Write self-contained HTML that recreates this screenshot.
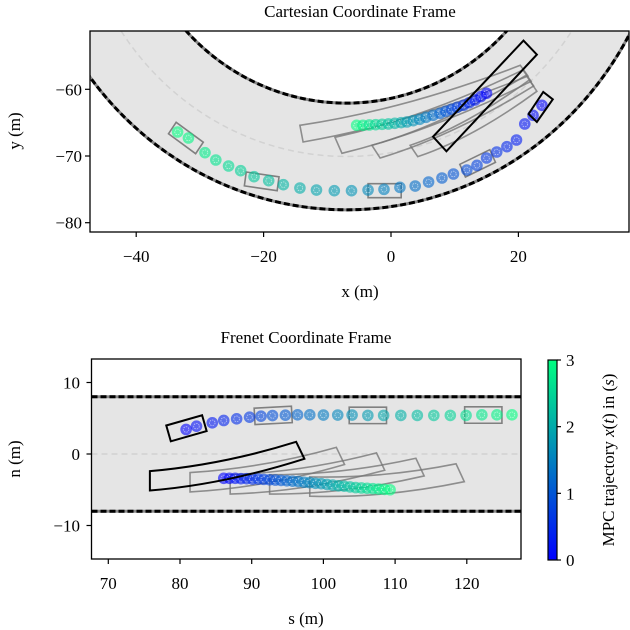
<!DOCTYPE html>
<html><head><meta charset="utf-8">
<style>
html,body{margin:0;padding:0;background:#fff;}
svg{display:block;font-family:"Liberation Serif","DejaVu Serif",serif;}
</style></head>
<body>
<svg id="fig" width="630" height="630" viewBox="0 0 630 630" xmlns="http://www.w3.org/2000/svg">
<defs>
<clipPath id="clipTop"><rect x="90" y="31" width="539" height="201"/></clipPath>
<clipPath id="clipBot"><rect x="91.5" y="359" width="429.5" height="200"/></clipPath>
<linearGradient id="cbgrad" x1="0" y1="1" x2="0" y2="0">
<stop offset="0" stop-color="rgb(0,0,255)"/><stop offset="1" stop-color="rgb(0,255,128)"/>
</linearGradient>
</defs>
<text x="360" y="17" font-size="17" text-anchor="middle">Cartesian Coordinate Frame</text>
<g id="topPlot"></g>
<text x="360" y="297" font-size="17" text-anchor="middle">x (m)</text>
<text transform="translate(20,131) rotate(-90)" font-size="17" text-anchor="middle">y (m)</text>

<text x="306" y="343" font-size="17" text-anchor="middle">Frenet Coordinate Frame</text>
<g id="botPlot"></g>
<text x="306" y="624" font-size="17" text-anchor="middle">s (m)</text>
<text transform="translate(20,459) rotate(-90)" font-size="17" text-anchor="middle">n (m)</text>

<g>
<rect x="548" y="360" width="9" height="200" fill="url(#cbgrad)" stroke="#000" stroke-width="1.2"/>
<text transform="translate(614,460) rotate(-90)" font-size="17" text-anchor="middle">MPC trajectory <tspan font-style="italic">x</tspan>(<tspan font-style="italic">t</tspan>) in (<tspan font-style="italic">s</tspan>)</text>
<g id="cbticks"></g>
</g>
</svg>
<script>
// ---------- DATA ----------
const topXTicks = [-40, -20, 0, 20];
const topYTicks = [-60, -70, -80];
const botSTicks = [70, 80, 90, 100, 110, 120];
const botNTicks = [10, 0, -10];
const cbTicks = [0, 1, 2, 3];
const roadCenter = [-7, -27.4];
const roadRadii = [34.67, 50.67];
const roadCenterRadius = 42.67;
const frenetBounds = [8, -8];
const obsTopX = [-33.5,-31.8,-29.2,-27.5,-25.5,-23.6,-21.5,-19.2,-16.9,-14.3,-11.7,-8.9,-6.2,-3.6,-1.1,1.4,3.8,5.9,8.0,9.8,11.9,13.5,15.0,16.6,18.2,19.7,21.0,22.3,23.7];
const obsTopY = [-66.4,-67.3,-69.5,-70.6,-71.5,-72.2,-73.1,-73.7,-74.3,-74.8,-75.1,-75.2,-75.2,-75.1,-75.0,-74.7,-74.5,-73.9,-73.3,-72.7,-72.1,-71.4,-70.3,-69.4,-68.6,-67.6,-65.2,-63.9,-62.4];
const egoTopX = [-5.4,-4.4,-3.4,-2.4,-1.4,-0.4,0.6,1.6,2.5,3.5,4.5,5.5,6.6,7.7,8.6,9.5,10.4,11.4,12.3,13.2,14.1,15.0];
const egoTopY = [-65.4,-65.4,-65.35,-65.3,-65.25,-65.2,-65.1,-65.0,-64.9,-64.7,-64.5,-64.2,-63.9,-63.6,-63.3,-63.0,-62.7,-62.4,-62.0,-61.6,-61.1,-60.6];
const egoBoxTop = [[6.6,-67.1],[8.7,-69.3],[22.9,-54.8],[20.8,-52.7]];
const obsBoxTop = [[21.6,-63.7],[22.9,-64.9],[25.4,-61.5],[23.9,-60.4]];
const ghostEgoTop = [
  [[-14.3,-65.4],[-13.8,-67.9],[21.5,-58.0],[20.3,-56.4]],
  [[-8.8,-67.2],[-7.7,-69.6],[22.0,-58.8],[20.7,-57.1]],
  [[-3.0,-68.4],[-1.7,-70.3],[22.4,-59.5],[21.2,-57.9]],
  [[3.0,-68.4],[4.2,-70.1],[22.9,-60.3],[21.7,-58.6]]
];
const ghostObsX = [-32.2,-20.3,-1.0,13.6];
const ghostObsY = [-67.3,-73.8,-75.2,-71.1];
const ghostObsH = [-35,-8,0,25];
const obsBotS = [80.85,82.3,84.5,86.1,87.9,89.7,91.3,92.9,94.7,96.4,98.1,100.0,102.0,104.0,106.2,108.4,110.8,113.1,115.4,117.7,119.9,122.1,124.2,126.3];
const obsBotN = [3.43,3.89,4.36,4.69,4.92,5.15,5.29,5.38,5.43,5.48,5.48,5.45,5.45,5.45,5.4,5.4,5.4,5.4,5.4,5.4,5.4,5.48,5.48,5.48];
const egoBotS = [86.1,86.9,87.7,88.5,89.3,90.1,90.9,91.7,92.5,93.3,94.1,94.9,95.7,96.5,97.3,98.1,98.9,99.7,100.5,101.3,102.1,102.9,103.7,104.5,105.3,106.1,106.9,107.7,108.5,109.3];
const egoBotN = [-3.4,-3.4,-3.4,-3.45,-3.45,-3.5,-3.5,-3.55,-3.6,-3.65,-3.7,-3.75,-3.8,-3.85,-3.95,-4.0,-4.1,-4.15,-4.25,-4.35,-4.45,-4.5,-4.6,-4.7,-4.75,-4.8,-4.85,-4.9,-4.95,-5.0];
const egoBoxBot = [[75.8,-2.4],[75.8,-5.1],[97.35,-0.67],[96.2,1.7]];
const egoBoxBotMid = [[86,-4.3],[86,-1.5]];
const ghostBotDS = [5.6,11.2,16.7,22.3];
const ghostBotDNL = [-0.2,-0.5,-0.5,-0.8];
const ghostBotDNR = [-0.8,-1.6,-2.4,-3.2];
const obsBoxBotS = [80.9,93.0,106.2,122.3];
const obsBoxBotN = [3.6,5.4,5.4,5.45];
const obsBoxBotH = [16,3,0,0];

// ---------- HELPERS ----------
const NS = 'http://www.w3.org/2000/svg';
function mk(tag, attrs, parent){const e=document.createElementNS(NS,tag);for(const k in attrs)e.setAttribute(k,attrs[k]);parent.appendChild(e);return e;}
function cmap(t){const f=Math.max(0,Math.min(1,t/3));return `rgb(0,${Math.round(255*f)},${Math.round(255*(1-f/2))})`;}
const tX = x => 391 + x*6.37;
const tY = y => 89.3 - (y+60)*6.67;
const bX = s => 108.3 + (s-70)*7.17;
const bY = n => 454 - n*7.15;

function marker(g, px, py, t, name){
  const c = mk('circle',{cx:px,cy:py,r:5.8,fill:cmap(t),'fill-opacity':0.6},g);
  
  
  mk('circle',{cx:px,cy:py,r:2.8,fill:'none',stroke:'#fff','stroke-opacity':0.6,'stroke-width':0.8,'stroke-dasharray':'1.5,1'},g);
}
function rectPoly(cx,cy,hdeg,L,W,alignRear){
  const h=hdeg*Math.PI/180, c=Math.cos(h), s=Math.sin(h);
  const x0 = alignRear?0:-L/2, x1 = alignRear?L:L/2;
  return [[x0,-W/2],[x1,-W/2],[x1,W/2],[x0,W/2]].map(p=>[cx+p[0]*c-p[1]*s, cy+p[0]*s+p[1]*c]);
}

// ---------- TOP PLOT ----------
const topG = document.getElementById('topPlot');
const tc = mk('g',{'clip-path':'url(#clipTop)'},topG);
function arcPts(r){const pts=[];for(let i=0;i<=180;i++){const a=Math.PI*i/180;pts.push([tX(roadCenter[0]+r*Math.cos(a)),tY(roadCenter[1]-r*Math.sin(a))]);}return pts;}
const innerPts = arcPts(roadRadii[0]), outerPts = arcPts(roadRadii[1]);
const road = mk('path',{d:'M'+outerPts.map(p=>p.join(',')).join('L')+'L'+innerPts.reverse().map(p=>p.join(',')).join('L')+'Z',fill:'#e5e5e5'},tc);


const cl = mk('polyline',{points:arcPts(roadCenterRadius).map(p=>p.join(',')).join(' '),fill:'none',stroke:'#d2d2d2','stroke-width':1.5,'stroke-dasharray':'6,4'},tc);


roadRadii.forEach(r=>{
  const pts=arcPts(r).map(p=>p.join(',')).join(' ');
  mk('polyline',{points:pts,fill:'none',stroke:'#888','stroke-width':3},tc);
  const b=mk('polyline',{points:pts,fill:'none',stroke:'#000','stroke-width':3,'stroke-dasharray':'6,3'},tc);
  
  
});
ghostEgoTop.forEach(box=>{
  const [lt,lb,rb,rt]=box.map(q=>[tX(q[0]),tY(q[1])]);
  const ct=[(lt[0]+rt[0])/2-4,(lt[1]+rt[1])/2+14];
  const cb=[(lb[0]+rb[0])/2-4,(lb[1]+rb[1])/2+14];
  const e=mk('path',{d:`M${lt}L${lb}Q${cb} ${rb}L${rt}Q${ct} ${lt}Z`,fill:'none',stroke:'#777','stroke-opacity':0.8,'stroke-width':1.6},tc);
  
  
});
ghostObsX.forEach((x,i)=>{
  const p = rectPoly(x,ghostObsY[i],ghostObsH[i],5.2,2.1,false);
  const e=mk('polygon',{points:p.map(q=>tX(q[0])+','+tY(q[1])).join(' '),fill:'none',stroke:'#666','stroke-opacity':0.8,'stroke-width':1.6},tc);
  
  
});
obsTopX.forEach((x,i)=>marker(tc,tX(x),tY(obsTopY[i]),3-3*i/(obsTopX.length-1),'obstacle-trajectory-point'));
egoTopX.forEach((x,i)=>marker(tc,tX(x),tY(egoTopY[i]),3-3*i/(egoTopX.length-1),'ego-trajectory-point'));
[egoBoxTop,obsBoxTop].forEach((b,k)=>{
  const e=mk('polygon',{points:b.map(q=>tX(q[0])+','+tY(q[1])).join(' '),fill:'none',stroke:'#000','stroke-width':2},tc);
  
  
});
mk('rect',{x:90,y:31,width:539,height:201,fill:'none',stroke:'#000','stroke-width':1.3},topG);
topXTicks.forEach(v=>{
  mk('line',{x1:tX(v),x2:tX(v),y1:232,y2:237,stroke:'#000','stroke-width':1.2},topG);
  const t=mk('text',{x:tX(v),y:262,'font-size':17,'text-anchor':'middle'},topG);
  t.textContent = v<0?'\u2212'+(-v):String(v);
  
  
});
topYTicks.forEach(v=>{
  mk('line',{x1:85,x2:90,y1:tY(v),y2:tY(v),stroke:'#000','stroke-width':1.2},topG);
  const t=mk('text',{x:82,y:tY(v)+6,'font-size':17,'text-anchor':'end'},topG);
  t.textContent = '\u2212'+(-v);
  
  
});

// ---------- BOTTOM PLOT ----------
const botG = document.getElementById('botPlot');
const bc = mk('g',{'clip-path':'url(#clipBot)'},botG);
const br = mk('rect',{x:91.5,y:bY(frenetBounds[0]),width:430,height:bY(frenetBounds[1])-bY(frenetBounds[0]),fill:'#e5e5e5'},bc);


const bcl = mk('line',{x1:91.5,x2:521,y1:bY(0),y2:bY(0),stroke:'#d2d2d2','stroke-width':1.5,'stroke-dasharray':'6,4'},bc);


frenetBounds.forEach(n=>{
  mk('line',{x1:91.5,x2:521,y1:bY(n),y2:bY(n),stroke:'#888','stroke-width':3},bc);
  const b=mk('line',{x1:91.5,x2:521,y1:bY(n),y2:bY(n),stroke:'#000','stroke-width':3,'stroke-dasharray':'6,3'},bc);
  
  
});
function curvedBox(ds,dnL,dnR){
  const s0=egoBoxBot[0][0], s1=egoBoxBot[2][0];
  const f=(p)=>{const w=(p[0]-s0)/(s1-s0);return [bX(p[0]+ds),bY(p[1]+dnL+w*(dnR-dnL))];};
  const [a,b,c,d]=egoBoxBot.map(f); const [m1,m2]=egoBoxBotMid.map(f);
  return `M${a}L${b}Q${m1} ${c}L${d}Q${m2} ${a}Z`;
}
ghostBotDS.forEach((ds,i)=>{
  const e=mk('path',{d:curvedBox(ds,ghostBotDNL[i],ghostBotDNR[i]),fill:'none',stroke:'#777','stroke-opacity':0.8,'stroke-width':1.6},bc);
  
  
});
obsBoxBotS.forEach((s,i)=>{
  if(i===0) return;
  const p=rectPoly(s,obsBoxBotN[i],obsBoxBotH[i],5.2,2.3,false);
  const e=mk('polygon',{points:p.map(q=>bX(q[0])+','+bY(q[1])).join(' '),fill:'none',stroke:'#666','stroke-opacity':0.8,'stroke-width':1.6},bc);
  
  
});
obsBotS.forEach((s,i)=>marker(bc,bX(s),bY(obsBotN[i]),3*i/(obsBotS.length-1),'obstacle-trajectory-point'));
egoBotS.forEach((s,i)=>marker(bc,bX(s),bY(egoBotN[i]),3*i/(egoBotS.length-1),'ego-trajectory-point'));
{
  const e=mk('path',{d:curvedBox(0,0,0),fill:'none',stroke:'#000','stroke-width':2},bc);
  
  
  const p=rectPoly(obsBoxBotS[0],obsBoxBotN[0],obsBoxBotH[0],5.2,2.3,false);
  const o=mk('polygon',{points:p.map(q=>bX(q[0])+','+bY(q[1])).join(' '),fill:'none',stroke:'#000','stroke-width':2},bc);
  
  
}
mk('rect',{x:91.5,y:359,width:429.5,height:200,fill:'none',stroke:'#000','stroke-width':1.3},botG);
botSTicks.forEach(v=>{
  mk('line',{x1:bX(v),x2:bX(v),y1:559,y2:564,stroke:'#000','stroke-width':1.2},botG);
  const t=mk('text',{x:bX(v),y:589,'font-size':17,'text-anchor':'middle'},botG);
  t.textContent=String(v);
  
  
});
botNTicks.forEach(v=>{
  mk('line',{x1:86.5,x2:91.5,y1:bY(v),y2:bY(v),stroke:'#000','stroke-width':1.2},botG);
  const t=mk('text',{x:80,y:bY(v)+6,'font-size':17,'text-anchor':'end'},botG);
  t.textContent = v<0?'\u2212'+(-v):String(v);
  
  
});
const cbg=document.getElementById('cbticks');
cbTicks.forEach(v=>{
  const y=560-v*200/3;
  mk('line',{x1:557,x2:561,y1:y,y2:y,stroke:'#000','stroke-width':1.2},cbg);
  const t=mk('text',{x:566,y:y+6,'font-size':17},cbg);
  t.textContent=String(v);
  
  
});
</script>
</body></html>
